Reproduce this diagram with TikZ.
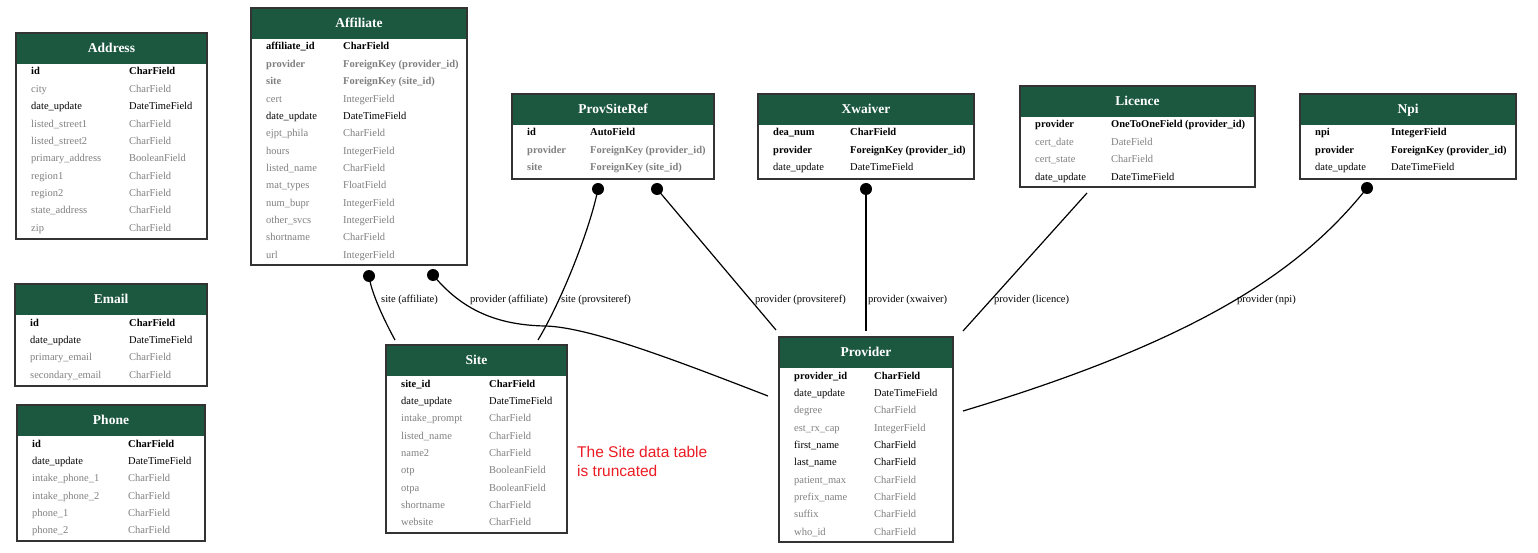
\documentclass[tikz,border=0pt]{standalone}
\usepackage{fontspec}
\setmainfont{Liberation Serif}
\newfontfamily\annotfont{Liberation Sans}
\usetikzlibrary{calc}
\definecolor{hdrgreen}{RGB}{28,88,64}
\definecolor{fgray}{RGB}{128,128,128}
\definecolor{annotred}{RGB}{235,28,36}
\tikzset{
 tbl/.style={draw=black!80, line width=1.4pt, fill=white, inner sep=0pt, outer sep=0pt},
 hdrfill/.style={fill=hdrgreen},
 ttl/.style={font=\fontsize{13.5}{15}\selectfont\bfseries, text=white, anchor=base, inner sep=0pt},
 pk/.style={font=\fontsize{10.5}{12}\selectfont\bfseries, text=black, inner sep=0pt},
 fld/.style={font=\fontsize{10.5}{12}\selectfont, text=black, inner sep=0pt},
 opt/.style={font=\fontsize{10.5}{12}\selectfont, text=fgray, inner sep=0pt},
 fk/.style={font=\fontsize{10.5}{12}\selectfont\bfseries, text=fgray, inner sep=0pt},
 conn/.style={line width=1.2pt, draw=black},
 rdot/.style={circle, fill=black, inner sep=0pt, minimum size=12pt},
 elabel/.style={font=\fontsize{10.5}{12}\selectfont, anchor=west, inner sep=0pt},
 annot/.style={font=\annotfont\fontsize{15.5}{19.5}\selectfont, text=annotred, align=left, anchor=north west, inner sep=0pt},
}
\newcommand{\ertbl}[6]{%
  \node[tbl, minimum width={#4-#2}, minimum height={#5-#3}, anchor=north west] (#1) at (#2,#3) {};
  \fill[hdrfill] ($(#1.north west)+(1.2,1.2)$) rectangle ($(#1.north east)+(-1.2,31)$);
  \node[ttl] (#1-title) at ($(#1.north)+(0,19.5)$) {#6};
}
\newcommand{\ertrow}[6]{%
  \node[#4, anchor=base west] (#1-f#3) at ($(#1.north west)+(15,42+17.35*#3)$) {#5};
  \node[#4, anchor=base west] (#1-t#3) at ($(#1.north west)+(#2,42+17.35*#3)$) {#6};
}
\begin{document}
\begin{tikzpicture}[x=1pt,y=-1pt]
\fill[white] (0,0) rectangle (1538,553);
\useasboundingbox (0,0) rectangle (1538,553);

% Address
\ertbl{address}{16}{33}{207}{239}{Address}
\ertrow{address}{113}{0}{pk}{id}{CharField}
\ertrow{address}{113}{1}{opt}{city}{CharField}
\ertrow{address}{113}{2}{fld}{date\_update}{DateTimeField}
\ertrow{address}{113}{3}{opt}{listed\_street1}{CharField}
\ertrow{address}{113}{4}{opt}{listed\_street2}{CharField}
\ertrow{address}{113}{5}{opt}{primary\_address}{BooleanField}
\ertrow{address}{113}{6}{opt}{region1}{CharField}
\ertrow{address}{113}{7}{opt}{region2}{CharField}
\ertrow{address}{113}{8}{opt}{state\_address}{CharField}
\ertrow{address}{113}{9}{opt}{zip}{CharField}

% Affiliate
\ertbl{affiliate}{251}{8}{467}{265}{Affiliate}
\ertrow{affiliate}{92}{0}{pk}{affiliate\_id}{CharField}
\ertrow{affiliate}{92}{1}{fk}{provider}{ForeignKey (provider\_id)}
\ertrow{affiliate}{92}{2}{fk}{site}{ForeignKey (site\_id)}
\ertrow{affiliate}{92}{3}{opt}{cert}{IntegerField}
\ertrow{affiliate}{92}{4}{fld}{date\_update}{DateTimeField}
\ertrow{affiliate}{92}{5}{opt}{ejpt\_phila}{CharField}
\ertrow{affiliate}{92}{6}{opt}{hours}{IntegerField}
\ertrow{affiliate}{92}{7}{opt}{listed\_name}{CharField}
\ertrow{affiliate}{92}{8}{opt}{mat\_types}{FloatField}
\ertrow{affiliate}{92}{9}{opt}{num\_bupr}{IntegerField}
\ertrow{affiliate}{92}{10}{opt}{other\_svcs}{IntegerField}
\ertrow{affiliate}{92}{11}{opt}{shortname}{CharField}
\ertrow{affiliate}{92}{12}{opt}{url}{IntegerField}

% ProvSiteRef
\ertbl{provsiteref}{512}{94}{714}{179}{ProvSiteRef}
\ertrow{provsiteref}{78}{0}{pk}{id}{AutoField}
\ertrow{provsiteref}{78}{1}{fk}{provider}{ForeignKey (provider\_id)}
\ertrow{provsiteref}{78}{2}{fk}{site}{ForeignKey (site\_id)}

% Xwaiver
\ertbl{xwaiver}{758}{94}{974}{179}{Xwaiver}
\ertrow{xwaiver}{92}{0}{pk}{dea\_num}{CharField}
\ertrow{xwaiver}{92}{1}{pk}{provider}{ForeignKey (provider\_id)}
\ertrow{xwaiver}{92}{2}{fld}{date\_update}{DateTimeField}

% Licence
\ertbl{licence}{1020}{86}{1255}{187}{Licence}
\ertrow{licence}{91}{0}{pk}{provider}{OneToOneField (provider\_id)}
\ertrow{licence}{91}{1}{opt}{cert\_date}{DateField}
\ertrow{licence}{91}{2}{opt}{cert\_state}{CharField}
\ertrow{licence}{91}{3}{fld}{date\_update}{DateTimeField}

% Npi
\ertbl{npi}{1300}{94}{1516}{179}{Npi}
\ertrow{npi}{91}{0}{pk}{npi}{IntegerField}
\ertrow{npi}{91}{1}{pk}{provider}{ForeignKey (provider\_id)}
\ertrow{npi}{91}{2}{fld}{date\_update}{DateTimeField}

% Email
\ertbl{email}{15}{284}{207}{386}{Email}
\ertrow{email}{114}{0}{pk}{id}{CharField}
\ertrow{email}{114}{1}{fld}{date\_update}{DateTimeField}
\ertrow{email}{114}{2}{opt}{primary\_email}{CharField}
\ertrow{email}{114}{3}{opt}{secondary\_email}{CharField}

% Phone
\ertbl{phone}{17}{405}{205}{541}{Phone}
\ertrow{phone}{111}{0}{pk}{id}{CharField}
\ertrow{phone}{111}{1}{fld}{date\_update}{DateTimeField}
\ertrow{phone}{111}{2}{opt}{intake\_phone\_1}{CharField}
\ertrow{phone}{111}{3}{opt}{intake\_phone\_2}{CharField}
\ertrow{phone}{111}{4}{opt}{phone\_1}{CharField}
\ertrow{phone}{111}{5}{opt}{phone\_2}{CharField}

% Site
\ertbl{site}{386}{345}{567}{533}{Site}
\ertrow{site}{103}{0}{pk}{site\_id}{CharField}
\ertrow{site}{103}{1}{fld}{date\_update}{DateTimeField}
\ertrow{site}{103}{2}{opt}{intake\_prompt}{CharField}
\ertrow{site}{103}{3}{opt}{listed\_name}{CharField}
\ertrow{site}{103}{4}{opt}{name2}{CharField}
\ertrow{site}{103}{5}{opt}{otp}{BooleanField}
\ertrow{site}{103}{6}{opt}{otpa}{BooleanField}
\ertrow{site}{103}{7}{opt}{shortname}{CharField}
\ertrow{site}{103}{8}{opt}{website}{CharField}

% Provider
\ertbl{provider}{779}{337}{953}{542}{Provider}
\ertrow{provider}{95}{0}{pk}{provider\_id}{CharField}
\ertrow{provider}{95}{1}{fld}{date\_update}{DateTimeField}
\ertrow{provider}{95}{2}{opt}{degree}{CharField}
\ertrow{provider}{95}{3}{opt}{est\_rx\_cap}{IntegerField}
\ertrow{provider}{95}{4}{fld}{first\_name}{CharField}
\ertrow{provider}{95}{5}{fld}{last\_name}{CharField}
\ertrow{provider}{95}{6}{opt}{patient\_max}{CharField}
\ertrow{provider}{95}{7}{opt}{prefix\_name}{CharField}
\ertrow{provider}{95}{8}{opt}{suffix}{CharField}
\ertrow{provider}{95}{9}{opt}{who\_id}{CharField}

% connector ends
\node[rdot] (dAffSite) at (369,276) {};
\node[rdot] (dAffProv) at (433,275) {};
\node[rdot] (dPsrSite) at (598,189) {};
\node[rdot] (dPsrProv) at (657,189) {};
\node[rdot] (dXwProv) at (866,189) {};
\node[rdot] (dNpiProv) at (1367,188) {};
\coordinate (sLic) at (1087,193);
\coordinate (eSiteA) at (395,340);
\coordinate (eSiteB) at (538,340);
\coordinate (eProvA) at (768,396);
\coordinate (eProvB) at (776,330);
\coordinate (eProvC) at (866,331);
\coordinate (eProvD) at (963,331);
\coordinate (eProvE) at (963,411);

\draw[conn] (dAffSite.center) .. controls (371,292) and (384,320) .. (eSiteA);
\draw[conn] (dAffProv.center) .. controls (458,305) and (490,325) .. (545,326) .. controls (590,327) and (680,362) .. (eProvA);
\draw[conn] (dPsrSite.center) .. controls (590,229) and (562,300) .. (eSiteB);
\draw[conn] (dPsrProv.center) -- (eProvB);
\draw[conn] (dXwProv.center) -- (eProvC);
\draw[conn] (sLic) -- (eProvD);
\draw[conn] (dNpiProv.center) .. controls (1307,263) and (1213,336) .. (eProvE);

% labels
\node[elabel] (lAffSite) at (381,300) {site (affiliate)};
\node[elabel] (lAffProv) at (470,300) {provider (affiliate)};
\node[elabel] (lPsrSite) at (561,300) {site (provsiteref)};
\node[elabel] (lPsrProv) at (755,300) {provider (provsiteref)};
\node[elabel] (lXwProv) at (868,300) {provider (xwaiver)};
\node[elabel] (lLicProv) at (994,300) {provider (licence)};
\node[elabel] (lNpiProv) at (1237,300) {provider (npi)};

% annotation
\node[annot] (note) at (577,445.6) {The Site data table\\is truncated};
\end{tikzpicture}
\end{document}
